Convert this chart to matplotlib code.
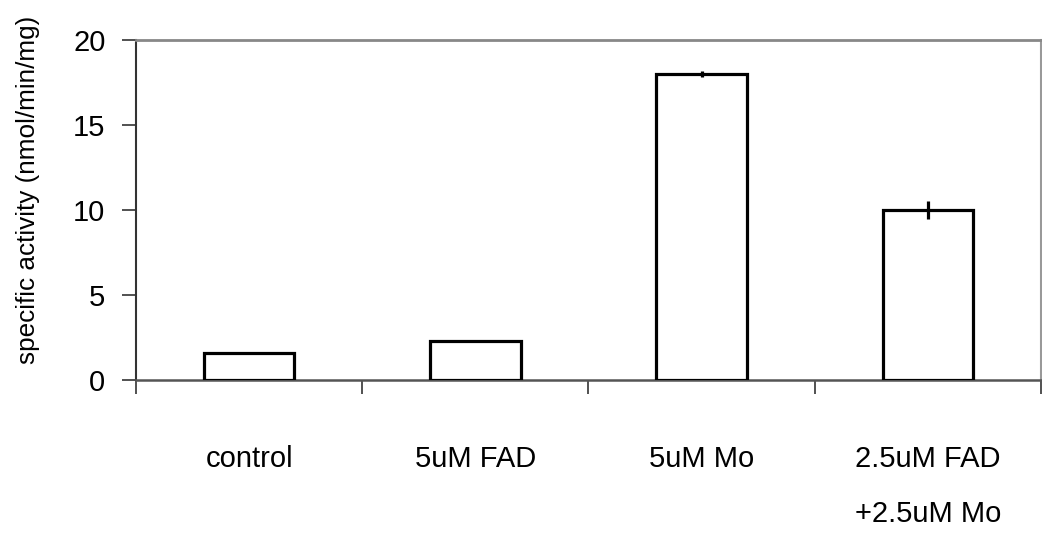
import matplotlib
matplotlib.use("Agg")
import matplotlib.pyplot as plt
from matplotlib.ticker import FixedLocator, NullFormatter

categories = ["control", "5uM FAD", "5uM Mo", "2.5uM FAD\n+2.5uM Mo"]
activity = [1.6, 2.3, 18.0, 10.0]
errors = [0.03, 0.05, 0.2, 0.55]
y_ticks = [0, 5, 10, 15, 20]

plt.rcParams["font.family"] = ["Liberation Sans", "DejaVu Sans"]

fig = plt.figure(figsize=(10.42, 5.36), dpi=100)
ax = fig.add_axes([0.1305, 0.291, 0.8685, 0.6344])

pos = [i + 0.5 for i in range(len(categories))]
ax.bar(pos, activity, width=0.4, facecolor="white", edgecolor="black",
       linewidth=2.3, zorder=3)
ax.errorbar(pos, activity, yerr=errors, fmt="none", ecolor="black",
            elinewidth=2.3, capsize=0, zorder=4)

ax.set_xlim(0, 4)
ax.set_ylim(0, 20)
ax.set_yticks(y_ticks)
ax.tick_params(axis="y", direction="out", length=10, width=1.2,
               color="#333333", pad=12, labelsize=21)

# category boundaries get the ticks, names sit between them
ax.xaxis.set_major_locator(FixedLocator([0, 1, 2, 3, 4]))
ax.xaxis.set_major_formatter(NullFormatter())
ax.xaxis.set_minor_locator(FixedLocator(pos))
ax.set_xticklabels(categories, minor=True, linespacing=2.2)
ax.tick_params(axis="x", which="major", direction="out", length=10,
               width=1.2, color="#333333")
ax.tick_params(axis="x", which="minor", length=0, pad=47, labelsize=21)
for lbl in ax.get_xticklabels(minor=True):
    lbl.set_verticalalignment("top")

ax.spines["left"].set_color("#333333")
ax.spines["left"].set_linewidth(1.5)
ax.spines["bottom"].set_color("#555555")
ax.spines["bottom"].set_linewidth(1.8)
ax.spines["top"].set_color("#888888")
ax.spines["top"].set_linewidth(2)
ax.spines["right"].set_color("#999999")
ax.spines["right"].set_linewidth(1.5)

ax.set_ylabel("specific activity (nmol/min/mg)", fontsize=18.8)
ax.yaxis.set_label_coords(-0.106, 0.559)

fig.savefig("out.png", dpi=100)
